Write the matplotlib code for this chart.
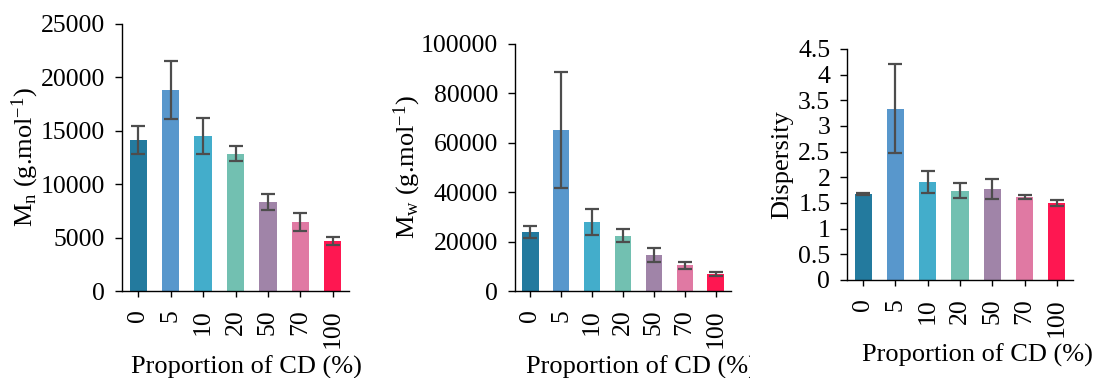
import numpy as np
import matplotlib.pyplot as plt
from matplotlib.transforms import Bbox

plt.rcParams['font.family'] = ['Liberation Serif', 'DejaVu Serif']
plt.rcParams['mathtext.fontset'] = 'custom'
plt.rcParams['mathtext.rm'] = 'Liberation Serif'
plt.rcParams['mathtext.it'] = 'Liberation Serif:italic'

# data
cd = ['0', '5', '10', '20', '50', '70', '100']
colors = ['#237A9E', '#5897CC', '#43ADCB', '#72C0B1', '#A084A8', '#E079A3', '#FE1751']

mn = [14140, 18820, 14510, 12830, 8330, 6460, 4680]
mn_err = [1300, 2700, 1670, 700, 770, 800, 330]

mw = [23900, 65200, 27900, 22300, 14600, 10500, 6900]
mw_err = [2400, 23600, 5400, 2600, 2800, 1400, 650]

disp = [1.68, 3.34, 1.91, 1.74, 1.78, 1.62, 1.50]
disp_err = [0.02, 0.86, 0.21, 0.14, 0.195, 0.04, 0.068]

W, H = 1094, 378
fig = plt.figure(figsize=(W / 100, H / 100), dpi=100)

# axes boxes in pixels: left, right, top, bottom
boxes = [(122, 349, 24, 291), (515, 731, 44, 291), (847, 1073, 49, 280)]
ylabels = [r'M$_\mathrm{n}$ (g.mol$^\mathrm{-1}$)',
           r'M$_\mathrm{w}$ (g.mol$^\mathrm{-1}$)',
           'Dispersity']
ylims = [(0, 25000), (0, 100000), (0, 4.5)]
ysteps = [5000, 20000, 0.5]
series = [(mn, mn_err), (mw, mw_err), (disp, disp_err)]
ylab_x = [25, 407, 782]
xlab = [(246, 367, None), (641, 367, (370, 750)), (977, 355, None)]

x = np.arange(len(cd))
for i, (l, r, t, b) in enumerate(boxes):
    ax = fig.add_axes([l / W, 1 - b / H, (r - l) / W, (b - t) / H])
    vals, errs = series[i]
    ax.bar(x, vals, width=0.53, color=colors, zorder=2)
    ax.errorbar(x, vals, yerr=errs, fmt='none', ecolor='#4D4D4D',
                elinewidth=1.6, capsize=4.7, capthick=1.6, zorder=3)
    ax.set_xlim(-0.5, 6.5)
    ax.set_ylim(*ylims[i])
    lo, hi = ylims[i]
    yt = np.arange(lo, hi + ysteps[i] / 2, ysteps[i])
    ax.set_yticks(yt)
    if i == 2:
        ax.set_yticklabels(['%g' % v for v in yt])
    else:
        ax.set_yticklabels(['%d' % v for v in yt])
    ax.set_xticks(x)
    ax.set_xticklabels(cd, rotation=90)
    for s in ['top', 'right']:
        ax.spines[s].set_visible(False)
    for s in ['left', 'bottom']:
        ax.spines[s].set_linewidth(1.0)
        ax.spines[s].set_color('black')
    ax.tick_params(axis='y', length=5, width=1, pad=7, labelsize=18.5)
    ax.tick_params(axis='x', length=4, width=1, pad=9, labelsize=18.5)
    fig.text(ylab_x[i] / W, 1 - (b + t) / 2 / H, ylabels[i], rotation=90,
             ha='center', va='center', fontsize=19)
    xx, yy, clip = xlab[i]
    txt = fig.text(xx / W, 1 - yy / H, 'Proportion of CD (%)', ha='center',
                   va='center', fontsize=19)
    if clip is not None:
        txt.set_clip_on(True)
        txt.set_clip_box(Bbox([[clip[0], 0], [clip[1], H]]))

fig.savefig('out.png', dpi=100)
